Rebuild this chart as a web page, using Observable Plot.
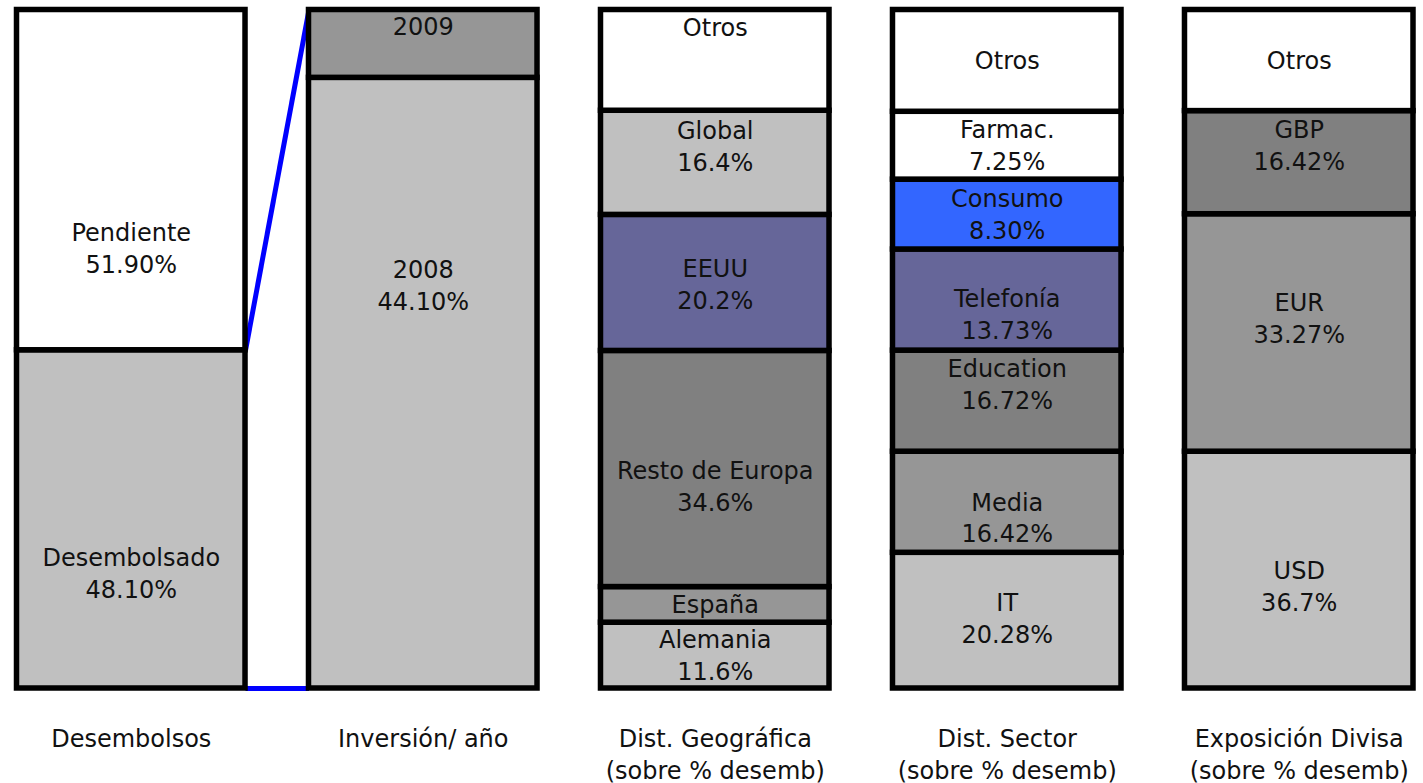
<!DOCTYPE html>
<html>
<head>
<meta charset="utf-8">
<script src="https://cdn.jsdelivr.net/npm/d3@7"></script>
<script src="https://cdn.jsdelivr.net/npm/@observablehq/plot@0.6"></script>
<style>
  html, body { margin: 0; padding: 0; background: #fff; }
  #chart svg { display: block; }
</style>
</head>
<body>
<div id="chart"></div>
<script>
// ---- Data ----
const bars = ["Desembolsos", "Inversión/ año", "Dist. Geográfica", "Dist. Sector", "Exposición Divisa"];
const barSubtitles = ["", "", "(sobre % desemb)", "(sobre % desemb)", "(sobre % desemb)"];

// segments listed bottom to top; share = drawn share of the bar height (%)
const desembolsosSegments = ["Desembolsado", "Pendiente"];
const desembolsosShare = [49.85, 50.15];
const desembolsosLabels = ["48.10%", "51.90%"];

const inversionSegments = ["2008", "2009"];
const inversionShare = [90.0, 10.0];
const inversionLabels = ["44.10%", ""];

const geoSegments = ["Alemania", "España", "Resto de Europa", "EEUU", "Global", "Otros"];
const geoShare = [9.7, 5.25, 34.8, 20.05, 15.35, 14.85];
const geoLabels = ["11.6%", "", "34.6%", "20.2%", "16.4%", ""];

const sectorSegments = ["IT", "Media", "Education", "Telefonía", "Consumo", "Farmac.", "Otros"];
const sectorShare = [20.0, 14.9, 14.9, 14.9, 10.3, 10.0, 15.0];
const sectorLabels = ["20.28%", "16.42%", "16.72%", "13.73%", "8.30%", "7.25%", ""];

const divisaSegments = ["USD", "EUR", "GBP", "Otros"];
const divisaShare = [34.9, 35.0, 15.2, 14.9];
const divisaLabels = ["36.7%", "33.27%", "16.42%", ""];

// ---- Styles ----
const fills = {
  "Pendiente": "#FFFFFF", "Desembolsado": "#C0C0C0",
  "2008": "#C0C0C0", "2009": "#969696",
  "Alemania": "#C0C0C0", "España": "#969696", "Resto de Europa": "#808080",
  "EEUU": "#666699", "Global": "#C0C0C0", "Otros": "#FFFFFF",
  "IT": "#C0C0C0", "Media": "#969696", "Education": "#808080",
  "Telefonía": "#666699", "Consumo": "#3366FF", "Farmac.": "#FFFFFF",
  "USD": "#C0C0C0", "EUR": "#969696", "GBP": "#808080"
};
// vertical label nudges (px) relative to segment middle
const labelNudge = {
  "Desembolsos|Desembolsado": 52, "Desembolsos|Pendiente": 67,
  "Inversión/ año|2008": -99, "Inversión/ año|2009": -19,
  "Dist. Geográfica|Alemania": -2, "Dist. Geográfica|España": -2,
  "Dist. Geográfica|Resto de Europa": 16, "Dist. Geográfica|Global": -18,
  "Dist. Geográfica|Otros": -35,
  "Dist. Sector|IT": -4, "Dist. Sector|Media": 14, "Dist. Sector|Education": -18,
  "Dist. Sector|Telefonía": 13, "Dist. Sector|Consumo": -2, "Dist. Sector|Farmac.": -2,
  "Dist. Sector|Otros": -2,
  "Exposición Divisa|USD": 15, "Exposición Divisa|EUR": -16,
  "Exposición Divisa|GBP": -19, "Exposición Divisa|Otros": -2
};
const pad = 0.1087;          // half-gap between bars (in bar units)
const font = "DejaVu Sans, Verdana, sans-serif";

// ---- Build table ----
const barSegments = [desembolsosSegments, inversionSegments, geoSegments, sectorSegments, divisaSegments];
const barShares = [desembolsosShare, inversionShare, geoShare, sectorShare, divisaShare];
const barLabels = [desembolsosLabels, inversionLabels, geoLabels, sectorLabels, divisaLabels];

const table = [];
bars.forEach((bar, i) => {
  let acc = 0;
  barSegments[i].forEach((seg, j) => {
    const v = barShares[i][j];
    table.push({
      bar, index: i, segment: seg, y1: acc, y2: acc + v,
      label: barLabels[i][j] ? seg + "\n" + barLabels[i][j] : seg,
      key: bar + "|" + seg
    });
    acc += v;
  });
});

const links = [
  {x1: 1 - pad, y1: desembolsosShare[0], x2: 1 + pad, y2: d3.sum(inversionShare)},
  {x1: 1 - pad, y1: 0, x2: 1 + pad, y2: 0}
];

const segmentText = table.map(d => Plot.text([d], {
  x: r => r.index + 0.5,
  y: r => (r.y1 + r.y2) / 2,
  text: "label",
  dy: labelNudge[d.key] ?? 0,
  fontSize: 24,
  lineHeight: 1.333,
  fill: "#111"
}));

const chart = Plot.plot({
  width: 1423,
  height: 783,
  marginLeft: 16.5,
  marginRight: 10,
  marginTop: 9.5,
  marginBottom: 95,
  style: {fontFamily: font, fontSize: "24px", background: "#fff", overflow: "visible"},
  x: {type: "linear", domain: [pad, bars.length - pad], axis: null},
  y: {domain: [0, 100], axis: null},
  marks: [
    Plot.link(links, {x1: "x1", y1: "y1", x2: "x2", y2: "y2", stroke: "#0000FF", strokeWidth: 5}),
    Plot.rect(table, {
      x1: d => d.index + pad,
      x2: d => d.index + 1 - pad,
      y1: "y1",
      y2: "y2",
      fill: d => fills[d.segment],
      stroke: "#000",
      strokeWidth: 5.5
    }),
    ...segmentText,
    Plot.text(bars, {x: (d, i) => i + 0.5, frameAnchor: "bottom", dy: 58, text: d => d, fontSize: 24, fill: "#111"}),
    Plot.text(barSubtitles, {x: (d, i) => i + 0.5, frameAnchor: "bottom", dy: 90, text: d => d, fontSize: 24, fill: "#111"})
  ]
});
document.getElementById("chart").append(chart);
</script>
</body>
</html>
